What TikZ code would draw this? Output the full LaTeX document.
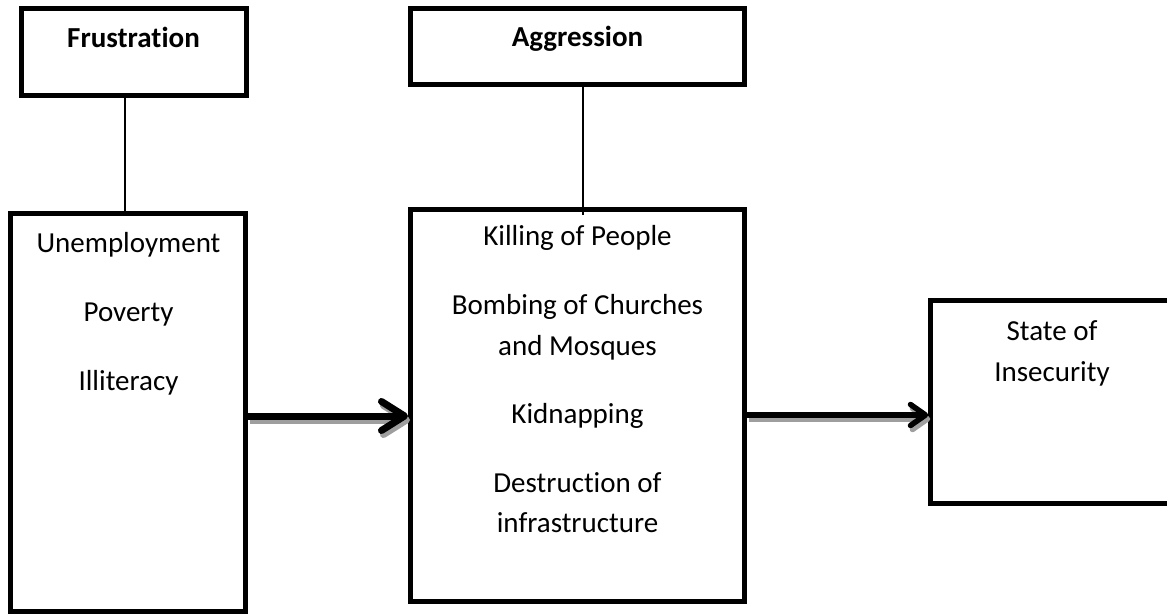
\documentclass[tikz,border=0pt]{standalone}
\usepackage{fontspec}
\setmainfont{Carlito}[Ligatures={NoCommon}]
\usetikzlibrary{arrows.meta}
\begin{document}
\begin{tikzpicture}[x=1bp,y=-1bp,
  box/.style={draw, line width=5bp, inner sep=0pt, rectangle},
  txt/.style={font=\fontsize{29bp}{40bp}\selectfont, anchor=base, inner sep=0pt},
  head/.style={font=\fontsize{29bp}{40bp}\selectfont\bfseries, anchor=base, inner sep=0pt},
  conn/.style={draw, line width=1.5bp},
  bigarrow/.style={line width=7bp, -{Straight Barb[length=23bp,width=29bp,round]}},
  smallarrow/.style={line width=5.5bp, -{Straight Barb[length=15bp,width=21bp,round]}},
  shade/.style={draw=black!38, transform canvas={shift={(2bp,-4bp)}}}
]
\useasboundingbox (0,0) rectangle (1167,616);
\clip (0,0) rectangle (1167,616);
\fill[white] (0,0) rectangle (1167,616);

% boxes
\node[box, minimum width=224.5bp, minimum height=87bp] (frus) at (133.75,52.5) {};
\node[box, minimum width=334bp, minimum height=75.5bp] (aggtop) at (577.5,46.75) {};
\node[box, minimum width=235bp, minimum height=397bp] (unemp) at (128,412.5) {};
\node[box, minimum width=334bp, minimum height=392bp] (aggmain) at (577.5,405.5) {};
\node[box, line width=4.5bp, minimum width=243bp, minimum height=203bp] (state) at (1052,402) {};

% texts
\node[head] (tfrus) at (133.5,48) {Frustration};
\node[head] (tagg) at (577.5,47) {Aggression};

\node[txt] (t1) at (128.5,253) {Unemployment};
\node[txt] (t2) at (128.5,322) {Poverty};
\node[txt] (t3) at (128.5,390) {Illiteracy};

\node[txt] (k1) at (577.5,246) {Killing of People};
\node[txt] (k2) at (577.5,315) {Bombing of Churches};
\node[txt] (k3) at (577.5,355) {and Mosques};
\node[txt] (k4) at (577.5,423) {Kidnapping};
\node[txt] (k5) at (577.5,492) {Destruction of};
\node[txt] (k6) at (577.5,532) {infrastructure};

\node[txt] (s1) at (1052,341) {State of};
\node[txt] (s2) at (1052,381) {Insecurity};

% vertical connectors
\coordinate (l1) at (125,0);
\draw[conn] (frus.south -| l1) -- (unemp.north -| l1);
\coordinate (l2end) at (583,215);
\draw[conn] (aggtop.south -| l2end) -- (l2end);

% arrows
\coordinate (ya) at (0,416);
\coordinate (yb) at (0,415);
\draw[bigarrow, shade] (unemp.east |- ya) -- (aggmain.west |- ya);
\draw[bigarrow] (unemp.east |- ya) -- (aggmain.west |- ya);
\draw[smallarrow, shade] (aggmain.east |- yb) -- (state.west |- yb);
\draw[smallarrow] (aggmain.east |- yb) -- (state.west |- yb);
\end{tikzpicture}
\end{document}
